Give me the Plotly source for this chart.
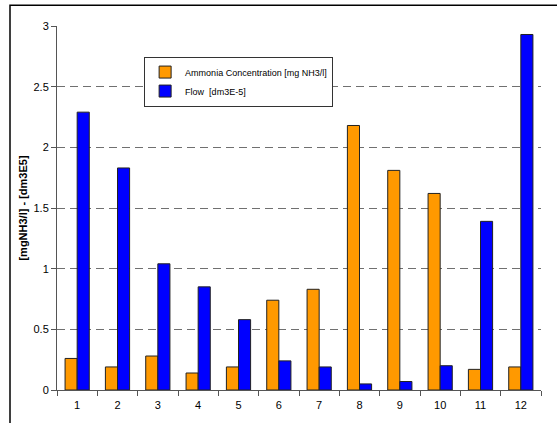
import plotly.graph_objects as go

categories = ["1", "2", "3", "4", "5", "6", "7", "8", "9", "10", "11", "12"]
ammonia = [0.26, 0.19, 0.28, 0.14, 0.19, 0.74, 0.83, 2.18, 1.81, 1.62, 0.17, 0.19]
flow = [2.29, 1.83, 1.04, 0.85, 0.58, 0.24, 0.19, 0.05, 0.07, 0.20, 1.39, 2.93]
y_ticks = [0, 0.5, 1, 1.5, 2, 2.5, 3]
y_tick_text = ["0", "0.5", "1", "1.5", "2", "2.5", "3"]

fig = go.Figure()
fig.add_trace(go.Bar(x=categories, y=ammonia, name="Ammonia Concentration [mg NH3/l]",
                     marker=dict(color="#FF9900", line=dict(color="#222222", width=1))))
fig.add_trace(go.Bar(x=categories, y=flow, name="Flow  [dm3E-5]",
                     marker=dict(color="#0000FF", line=dict(color="#222222", width=1))))

fig.update_layout(
    width=557, height=423,
    margin=dict(l=57, r=16, t=26, b=29),
    paper_bgcolor="white", plot_bgcolor="white",
    barmode="group", bargap=0.4, bargroupgap=0,
    font=dict(family="Liberation Sans, Arial", size=11, color="black"),
    legend=dict(x=0.18, y=0.916, xanchor="left", yanchor="top",
                bordercolor="#333333", borderwidth=1, bgcolor="white",
                font=dict(size=9)),
    xaxis=dict(showline=True, linecolor="#555555", linewidth=1,
               ticks="outside", ticklen=5, tickcolor="#555555",
               tickson="boundaries", showgrid=False, ticklabelstandoff=5),
    yaxis=dict(range=[0, 3], tickvals=y_ticks, ticktext=y_tick_text,
               showline=True, linecolor="#555555", linewidth=1,
               ticks="outside", ticklen=5, tickcolor="#555555",
               showgrid=True, gridcolor="#707070", griddash="8px,5px", gridwidth=1,
               zeroline=False,
               title=dict(text="<b>[mgNH3/l] - [dm3E5]</b>", font=dict(size=11), standoff=3)),
)

fig.add_shape(type="rect", xref="paper", yref="paper",
              x0=(10 - 57) / 484, x1=1.2, y0=-0.3, y1=1 + (26 - 5) / 368,
              line=dict(color="black", width=1.5), fillcolor="rgba(0,0,0,0)", layer="below")

fig.write_html("out.html", config={"displayModeBar": False},
               post_script="document.body.style.margin='0px';")
